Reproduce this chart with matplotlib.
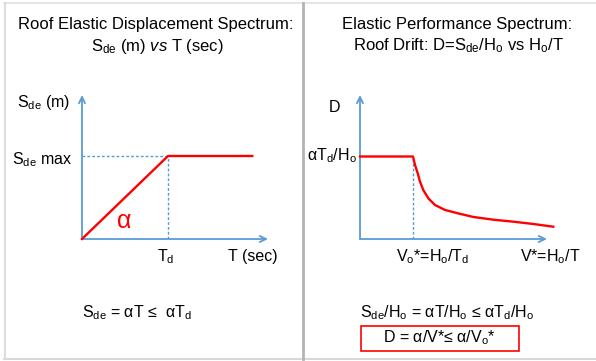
import matplotlib
matplotlib.use("Agg")
import matplotlib.pyplot as plt
from matplotlib.patches import Rectangle
from matplotlib.lines import Line2D

##########################################
# Data
# left panel: Sde vs T, Td = 1, Sde max = 1
T_left = [0.0, 1.0, 1.98]
Sde_left = [0.0, 1.0, 1.0]
Td = 1.0
Sde_max = 1.0

# right panel: D vs V*, Vo* = 1, aTd/Ho = 1
V_right = [0.0, 1.0, 1.038, 1.089, 1.132, 1.194, 1.289, 1.415, 1.604, 1.855,
           2.138, 2.515, 2.892, 3.27, 3.647]
D_right = [1.0, 1.0, 0.897, 0.796, 0.695, 0.594, 0.493, 0.412, 0.352, 0.310,
           0.267, 0.234, 0.210, 0.182, 0.149]
V0 = 1.0
D0 = 1.0

##########################################
# Style
plt.rcParams['font.family'] = ['Liberation Sans', 'DejaVu Sans']
plt.rcParams['mathtext.fontset'] = 'custom'
plt.rcParams['mathtext.rm'] = 'Liberation Sans'
plt.rcParams['mathtext.it'] = 'Liberation Sans:italic'
plt.rcParams['mathtext.bf'] = 'Liberation Sans:bold'
FS = 11.5
FS_TITLE = 12
BLUE = '#5B9BD5'
RED = '#FF0000'

W, H = 596, 361


def fx(x):
    return x / W


def fy(y):
    return 1 - y / H


def sub(base, s):
    return r'$\mathrm{%s_{%s}}$' % (base, s)


S_de = sub('S', 'de')
T_d = sub('T', 'd')
H_o = sub('H', 'o')
V_o = sub('V', 'o')

fig = plt.figure(figsize=(W / 100, H / 100), dpi=100)

# panel frames
fig.add_artist(Line2D([fx(4), 1], [fy(3), fy(3)], color='#e2e2e2', lw=1.2))
fig.add_artist(Line2D([fx(4), 1], [fy(358.5), fy(358.5)], color='#d8d8d8', lw=1.5))
fig.add_artist(Line2D([fx(4.5), fx(4.5)], [fy(3), fy(358.5)], color='#dcdcdc', lw=1.5))
fig.add_artist(Line2D([fx(302.8), fx(302.8)], [fy(3), fy(358.5)], color='#b4b4b4', lw=2))


def make_axes(x0, y0, x1, y1, xmax, ymax):
    ax = fig.add_axes([fx(x0), fy(y0), fx(x1) - fx(x0), fy(y1) - fy(y0)])
    ax.set_xlim(0, xmax)
    ax.set_ylim(0, ymax)
    ax.axis('off')
    arrow = dict(arrowstyle='->,head_length=0.45,head_width=0.22', color=BLUE,
                 lw=1.3, shrinkA=0, shrinkB=0)
    ax.annotate('', xy=(xmax, 0), xytext=(0, 0), arrowprops=arrow, annotation_clip=False)
    ax.annotate('', xy=(0, ymax), xytext=(0, 0), arrowprops=arrow, annotation_clip=False)
    return ax


##########################################
# Left panel
axL = make_axes(82, 239, 268, 95, 186 / 86, 144 / 83)
axL.plot([0, Td], [Sde_max, Sde_max], color=BLUE, lw=1.0, ls=(0, (2, 1.5)))
axL.plot([Td, Td], [0, Sde_max], color=BLUE, lw=1.0, ls=(0, (2, 1.5)))
axL.plot(T_left, Sde_left, color=RED, lw=1.7, clip_on=False, zorder=5)

fig.text(fx(155.5), fy(25), 'Roof Elastic Displacement Spectrum:', ha='center', va='center', fontsize=FS_TITLE)
fig.text(fx(157.5), fy(46), S_de + r' (m) $\mathit{vs}$ T (sec)', ha='center', va='center', fontsize=FS_TITLE)
fig.text(fx(70), fy(103), S_de + ' (m)', ha='right', va='center', fontsize=FS)
fig.text(fx(72.5), fy(160), S_de + ' max', ha='right', va='center', fontsize=FS)
fig.text(fx(124.5), fy(221), 'α', ha='center', va='center', fontsize=18, color=RED)
fig.text(fx(166), fy(257), T_d, ha='center', va='center', fontsize=FS)
fig.text(fx(253), fy(257), 'T (sec)', ha='center', va='center', fontsize=FS)
fig.text(fx(81.5), fy(313), S_de + ' = αT ≤  α' + T_d, ha='left', va='center', fontsize=FS)

##########################################
# Right panel
axR = make_axes(360, 239, 547, 95, 187 / 53, 144 / 82.5)
axR.plot([V0, V0], [0, D0], color=BLUE, lw=1.0, ls=(0, (2, 1.5)))
axR.plot(V_right, D_right, color=RED, lw=1.7, clip_on=False, zorder=5)

fig.text(fx(456.7), fy(25), 'Elastic Performance Spectrum:', ha='center', va='center', fontsize=FS_TITLE)
fig.text(fx(458), fy(46), 'Roof Drift: D=' + S_de + '/' + H_o + ' vs ' + H_o + '/T',
         ha='center', va='center', fontsize=FS_TITLE)
fig.text(fx(334), fy(108), 'D', ha='center', va='center', fontsize=FS)
fig.text(fx(357), fy(156), 'α' + T_d + '/' + H_o, ha='right', va='center', fontsize=FS)
fig.text(fx(433), fy(257), V_o + '*=' + H_o + '/' + T_d, ha='center', va='center', fontsize=FS)
fig.text(fx(550), fy(257), 'V*=' + H_o + '/T', ha='center', va='center', fontsize=FS)
fig.text(fx(360.5), fy(313), S_de + '/' + H_o + ' = αT/' + H_o + ' ≤ α' + T_d + '/' + H_o,
         ha='left', va='center', fontsize=FS)
fig.text(fx(439), fy(338), 'D = α/V*≤ α/' + V_o + '*', ha='center', va='center', fontsize=FS)
fig.add_artist(Rectangle((fx(361), fy(350.5)), fx(519) - fx(361), fy(326) - fy(350.5),
                         transform=fig.transFigure, fill=False, ec=RED, lw=1.2))

fig.savefig('out.png', dpi=100)
